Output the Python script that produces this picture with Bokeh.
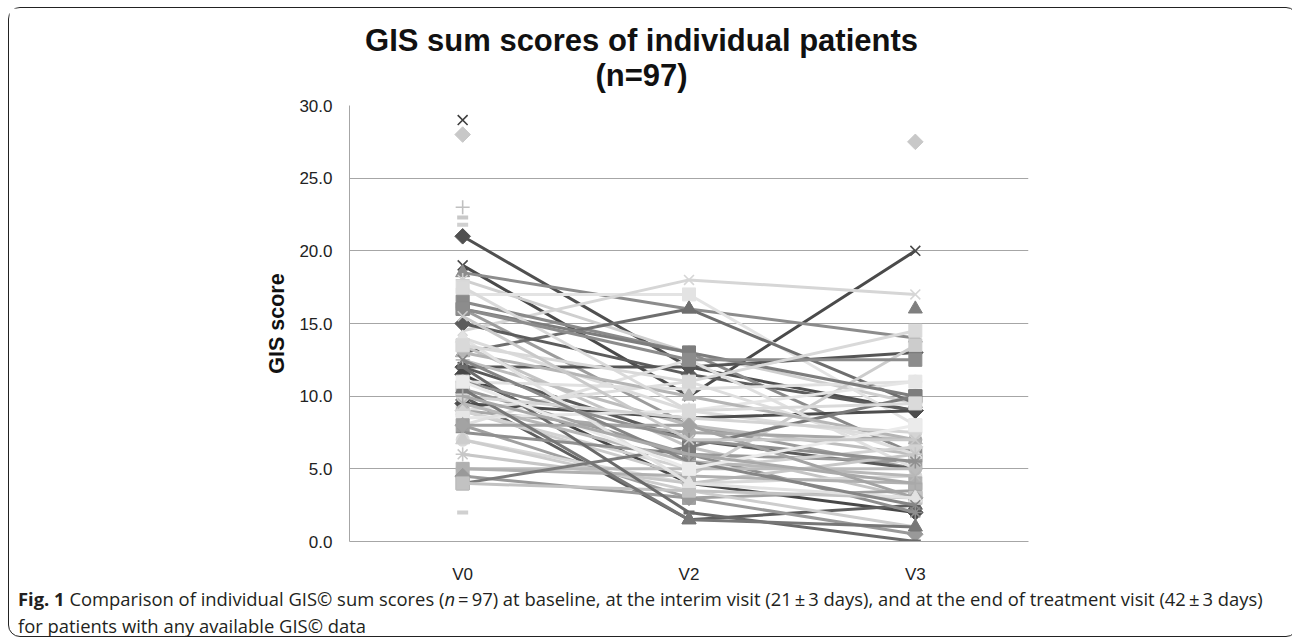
import math
import numpy as np
from bokeh.plotting import figure
from bokeh.models import (ColumnDataSource, Range1d, FactorRange, NumeralTickFormatter,
                          FixedTicker, Label, Div)
from bokeh.layouts import column
from bokeh.embed import file_html
from bokeh.resources import INLINE

title_lines = ["GIS sum scores of individual patients", "(n=97)"]
visits = ["V0", "V2", "V3"]
y_ticks = [0, 5, 10, 15, 20, 25, 30]

# GIS sum score per patient (None = not available)
v0 = [29, 28, 23, 22.3, 21.8, 21, 19, 18.5, 18, 17, 14.5, 16.5, 16, 13, 15, 12, 14, 13.5, 12.5, 12,
      11.5, 11, 10.5, 10, 9, 9.5, 9, 9, 9, 8.5, 8, 8, 7.5, 7, 7, 6, 5, 5, 4.5, 4,
      4, 2, None, 16, 13, 12, 11, 10, 9.5, 8, 17.5, 14, 12.5, 10.5, 16, None, 13.5, 11, 10, 15.5]
v2 = [None, None, None, None, None, 12, 10, 16, 13, 17, 18, 13, 8, 16, 11.5, 12, 9, 6.5, 8, 7,
      4, 10.5, 6, 1.5, 4.5, 8.5, 11, 7.5, 5, 9, 12.5, 3, 6, 4, 3.5, 4, 5, 4.5, 3, 6.5,
      3.5, None, None, 13, 10, 2, 7, 8.5, 5.5, 8, 9, 4, 5.5, 1.5, 12.5, None, 11, 5, 6, 7]
v3 = [None, None, None, None, None, 9, 20, 14, 9.5, 8, 17, 6, 5, 9.5, 9, 13, 7, 3, 6, 5,
      2, 11, 5.5, 2.5, 13.5, 9, 6, 7, 6.5, 11, 5, 3.5, 2, 4.5, 1, 6, 5, 4, 0.5, 10,
      3, None, 27.5, 10, 7, 0, 5.5, 7.5, 4.5, 3, 9.5, 3, 2.5, 1, 12.5, 16, 14.5, 8, 4, 7]

markers = ["x", "diamond", "cross", "dash", "dash", "diamond", "x", "triangle", "asterisk", "square",
           "x", "square", "asterisk", "triangle", "diamond", "diamond", "triangle", "square", "asterisk", "x",
           "diamond", "circle", "square", "triangle", "square", "diamond", "triangle", "circle", "diamond", "square",
           "x", "square", "asterisk", "circle", "triangle", "asterisk", "circle", "square", "diamond", "square",
           "square", "dash", "diamond", "square", "triangle", "dash", "asterisk", "circle", "x", "diamond",
           "square", "triangle", "x", "triangle", "square", "triangle", "square", "square", "cross", "x"]
colors = ["#3f3f3f", "#c8c8c8", "#c0c0c0", "#c8c8c8", "#d0d0d0", "#505050", "#4a4a4a", "#8c8c8c", "#cfcfcf", "#e3e3e3",
          "#d6d6d6", "#8a8a8a", "#9c9c9c", "#6e6e6e", "#5c5c5c", "#555555", "#dcdcdc", "#c4c4c4", "#bdbdbd", "#5a5a5a",
          "#474747", "#e0e0e0", "#9a9a9a", "#5e5e5e", "#cccccc", "#4d4d4d", "#dedede", "#a8a8a8", "#d2d2d2", "#e6e6e6",
          "#e0e0e0", "#a0a0a0", "#8f8f8f", "#d8d8d8", "#cdcdcd", "#c7c7c7", "#bcbcbc", "#b0b0b0", "#999999", "#7a7a7a",
          "#c2c2c2", "#d0d0d0", "#c8c8c8", "#7d7d7d", "#b5b5b5", "#6a6a6a", "#909090", "#d4d4d4", "#b8b8b8", "#a3a3a3",
          "#dadada", "#e2e2e2", "#858585", "#777777", "#8c8c8c", "#7f7f7f", "#d9d9d9", "#ebebeb", "#a9a9a9", "#c9c9c9"]

W = 1278
TH = 87
MT, MB, ML, FRH, FRW = 10, 44, 340, 437, 679
MR = W - ML - FRW

# ---- title strip (frame aligned with the chart frame; x range in page pixels) ----
pt = figure(width=W, height=TH, x_range=Range1d(349, 349 + FRW), y_range=Range1d(0, TH),
            output_backend="svg", toolbar_location=None, x_axis_type=None, y_axis_type=None,
            min_border_left=ML, min_border_right=MR, min_border_top=0, min_border_bottom=0)
pt.outline_line_color = None
pt.grid.visible = False
for txt, yy in zip(title_lines, (TH - 32, TH - 67)):
    pt.add_layout(Label(x=641, y=yy, text=txt, text_font="Liberation Sans",
                        text_font_style="bold", text_font_size="31px",
                        text_align="center", text_baseline="middle", text_color="#111111"))

# ---- main chart ----
p = figure(width=W, height=MT + FRH + MB, x_range=FactorRange(*visits), y_range=Range1d(0, 30),
           output_backend="svg", toolbar_location=None,
           min_border_left=ML, min_border_right=MR, min_border_top=MT, min_border_bottom=MB)
p.outline_line_color = None

for i in range(len(v0)):
    ys = [np.nan if v is None else float(v) for v in (v0[i], v2[i], v3[i])]
    src = ColumnDataSource(dict(x=visits, y=ys))
    c = colors[i]
    p.line("x", "y", source=src, line_color=c, line_width=3)
    m = markers[i]
    if m == "diamond":
        p.scatter("x", "y", source=src, marker="square", angle=math.pi / 4, size=11,
                  fill_color=c, line_color=c)
    elif m in ("x", "cross", "asterisk"):
        p.scatter("x", "y", source=src, marker=m, size=14, line_color=c, line_width=1.6)
    elif m == "dash":
        p.scatter("x", "y", source=src, marker="dash", size=11, line_color=c, line_width=4)
    elif m == "triangle":
        p.scatter("x", "y", source=src, marker="triangle", size=14, fill_color=c, line_color=c)
    else:
        p.scatter("x", "y", source=src, marker=m, size=13, fill_color=c, line_color=c)

p.yaxis.ticker = FixedTicker(ticks=y_ticks)
p.yaxis.formatter = NumeralTickFormatter(format="0.0")
p.yaxis.major_tick_line_color = None
p.yaxis.minor_tick_line_color = None
p.yaxis.axis_line_color = "#a6a6a6"
p.yaxis.major_label_standoff = 11
p.yaxis.major_label_text_font = "Liberation Sans"
p.yaxis.major_label_text_font_size = "17px"
p.yaxis.major_label_text_color = "#222222"
p.yaxis.axis_label = "GIS score"
p.yaxis.axis_label_text_font = "Liberation Sans"
p.yaxis.axis_label_text_font_style = "bold"
p.yaxis.axis_label_text_font_size = "21.5px"
p.yaxis.axis_label_text_color = "#111111"
p.yaxis.axis_label_standoff = 7

p.xaxis.major_tick_line_color = None
p.xaxis.minor_tick_line_color = None
p.xaxis.axis_line_color = "#a6a6a6"
p.xaxis.major_label_standoff = 17
p.xaxis.major_label_text_font = "Liberation Sans"
p.xaxis.major_label_text_font_size = "17px"
p.xaxis.major_label_text_color = "#222222"

p.xgrid.grid_line_color = None
p.ygrid.grid_line_color = "#a6a6a6"
p.ygrid.grid_line_width = 1

cap = Div(width=W, height=44,
          text=("<b>Fig. 1</b> Comparison of individual GIS&copy; sum scores (<i>n</i>&thinsp;=&thinsp;97) "
                "at baseline, at the interim visit (21&thinsp;&plusmn;&thinsp;3 days), and at the end of "
                "treatment visit (42&thinsp;&plusmn;&thinsp;3 days)<br>for patients with any available GIS&copy; data"),
          styles={"font-family": "'Open Sans'", "font-size": "18.4px", "line-height": "27px",
                  "color": "#231f20", "padding-left": "4px", "padding-top": "0px",
                  "transform": "translateY(-6px)",
                  "overflow": "visible", "white-space": "nowrap"})

layout = column(pt, p, cap, styles={"border": "1px solid #222222", "border-radius": "12px",
                                    "margin-left": "8px", "margin-top": "7px",
                                    "max-height": "630px", "box-sizing": "border-box",
                                    "overflow": "visible", "background": "white"})

open("out.html", "w").write(file_html(layout, INLINE))
